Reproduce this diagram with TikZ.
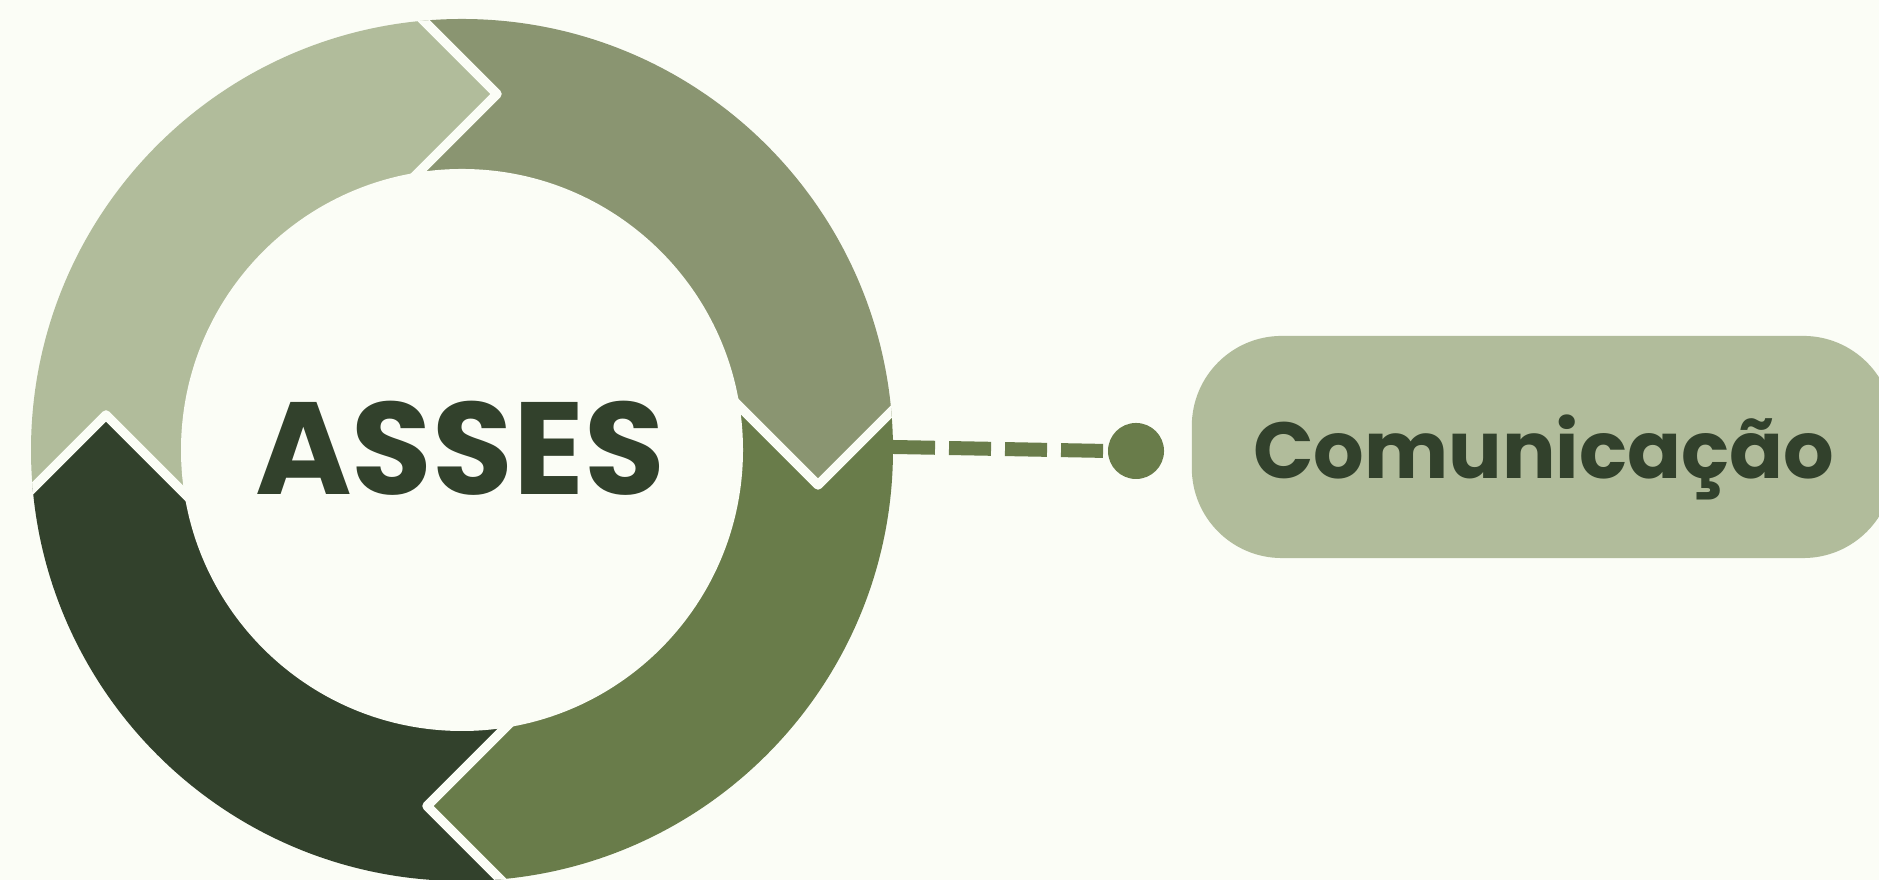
\documentclass[tikz,border=0pt]{standalone}
\usepackage{fontspec}
\newfontfamily\pop{Poppins}
\definecolor{bg}{HTML}{FBFDF6}
\definecolor{segA}{HTML}{8A9571}
\definecolor{segB}{HTML}{697C4A}
\definecolor{segC}{HTML}{32412C}
\definecolor{segD}{HTML}{B1BC9B}
\definecolor{ink}{HTML}{32412C}
\tikzset{
  sep/.style={draw=bg, line width=2.7pt, line join=round},
  dashline/.style={draw=segB, line width=3.98pt, dash pattern=on 11.95pt off 3.98pt},
  dotnode/.style={circle, fill=segB, minimum size=0.56cm, inner sep=0pt},
  pillnode/.style={fill=segD, rounded corners=25.6pt, minimum width=7.01cm, minimum height=2.22cm, inner sep=0pt},
  bigtext/.style={anchor=base, text=ink, font=\pop\bfseries\fontsize{37.3pt}{40pt}\selectfont, inner sep=0pt},
  pilltext/.style={anchor=base, text=ink, font=\pop\bfseries\fontsize{22.6pt}{26pt}\selectfont, inner sep=0pt}
}
\begin{document}
\begin{tikzpicture}[x=0.01cm,y=0.01cm]
\useasboundingbox[fill=bg] (0,0) rectangle (1879,880);
\coordinate (c) at (462,430);
\begin{scope}
\clip (0,0) rectangle (1879,880);
\begin{scope}[shift={(c)}]
  \clip (0,0) circle (431);
  \foreach \k/\col in {0/segA,1/segB,2/segC,3/segD}{
    \fill[\col, rotate=-90*\k] (-85,476) -- (35,356) -- (-85,236) -- (0,0) -- (236,85) -- (356,-35) -- (476,85) -- (600,600) -- cycle;
  }
  \foreach \k in {0,1,2,3}{
    \draw[sep, rotate=-90*\k] (-85,476) -- (35,356) -- (-85,236);
  }
  \fill[bg] (0,0) circle (281);
\end{scope}
\end{scope}
\node[bigtext] (core) at (460,385) {ASSES};
\coordinate (ringE) at (893,433);
\node[dotnode] (dot) at (1136,429) {};
\draw[dashline] (ringE) -- (dot.west);
\begin{scope}
\clip (0,0) rectangle (1879,880);
\node[pillnode] (pill) at (1542.5,433) {};
\end{scope}
\node[pilltext] (lbl) at (1543.5,401) {Comunicação};
\end{tikzpicture}
\end{document}
